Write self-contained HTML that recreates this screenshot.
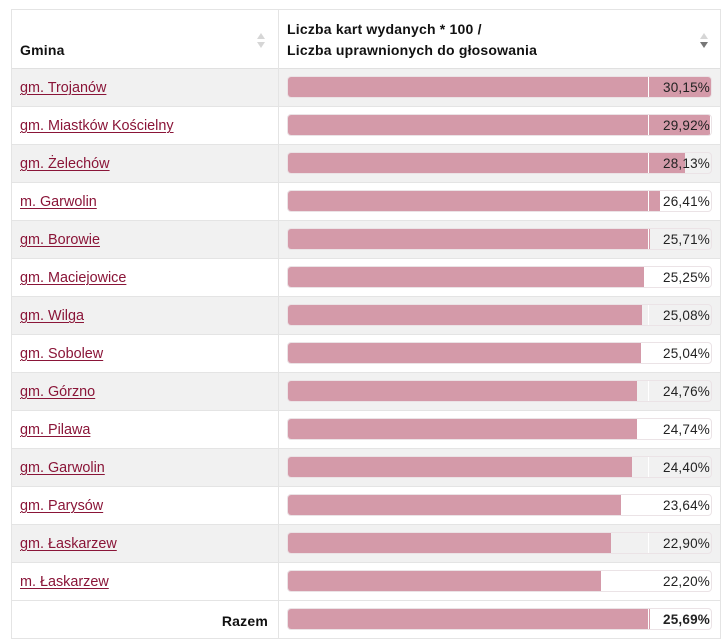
<!DOCTYPE html>
<html><head><meta charset="utf-8">
<style>
*{margin:0;padding:0;box-sizing:border-box}
body{width:726px;height:641px;background:#fff;font-family:"Liberation Sans","DejaVu Sans",sans-serif;position:relative;overflow:hidden;color:#222}
.tbl{position:absolute;left:11px;top:9px;width:710px;height:630px;border:1px solid #e4e4e4}
.hdr{position:absolute;left:0;top:0;width:708px;height:59px;background:#fff;border-bottom:1px solid #e0e0e0}
.vdiv{position:absolute;left:266px;top:0;width:1px;height:628px;background:#e4e4e4}
.row{position:absolute;left:0;width:708px;height:38px;border-bottom:1px solid #e4e4e4}
.g{background:#f1f1f1}
.name{position:absolute;left:8px;top:11px;font-size:14.4px;color:#8a1538;text-decoration:underline;text-underline-offset:2px;text-decoration-thickness:1px;white-space:nowrap}
.track{position:absolute;left:275px;top:7px;width:425px;height:22px;border:1px solid #ebe3e6;border-radius:4px;overflow:hidden}
.fill{position:absolute;left:0;top:0;height:100%;background:#d49aa9}
.lab{position:absolute;left:360px;top:0;width:65px;height:100%;border-left:1px solid #fff;text-align:right;padding-right:3px;padding-top:1px;font-size:13.5px;letter-spacing:0.2px;line-height:20px;color:#222}
.th{position:absolute;font-weight:bold;font-size:14px;letter-spacing:0.2px;color:#111;white-space:nowrap}
.sort{position:absolute;width:8px;height:16px}
.sort .u{position:absolute;left:0;top:0;width:0;height:0;border-left:4px solid transparent;border-right:4px solid transparent;border-bottom:6px solid #d6d6d6}
.sort .d{position:absolute;left:0;top:9px;width:0;height:0;border-left:4px solid transparent;border-right:4px solid transparent;border-top:6px solid #d6d6d6}
</style></head><body>
<div class="tbl">
<div class="hdr">
<div class="th" style="left:8px;top:32px">Gmina</div>
<div class="sort" style="left:245px;top:23px"><div class="u"></div><div class="d"></div></div>
<div class="th" style="left:275px;top:11px">Liczba kart wydanych * 100 /</div>
<div class="th" style="left:275px;top:32px">Liczba uprawnionych do głosowania</div>
<div class="sort" style="left:688px;top:23px"><div class="u"></div><div class="d" style="border-top-color:#777"></div></div>
</div>

<div class="row g" style="top:59px"><span class="name">gm. Trojanów</span><div class="track"><div class="fill" style="width:425px"></div><div class="lab">30,15%</div></div></div>
<div class="row" style="top:97px"><span class="name">gm. Miastków Kościelny</span><div class="track"><div class="fill" style="width:421.8px"></div><div class="lab">29,92%</div></div></div>
<div class="row g" style="top:135px"><span class="name">gm. Żelechów</span><div class="track"><div class="fill" style="width:396.5px"></div><div class="lab">28,13%</div></div></div>
<div class="row" style="top:173px"><span class="name">m. Garwolin</span><div class="track"><div class="fill" style="width:372.3px"></div><div class="lab">26,41%</div></div></div>
<div class="row g" style="top:211px"><span class="name">gm. Borowie</span><div class="track"><div class="fill" style="width:362.4px"></div><div class="lab">25,71%</div></div></div>
<div class="row" style="top:249px"><span class="name">gm. Maciejowice</span><div class="track"><div class="fill" style="width:355.9px"></div><div class="lab">25,25%</div></div></div>
<div class="row g" style="top:287px"><span class="name">gm. Wilga</span><div class="track"><div class="fill" style="width:353.5px"></div><div class="lab">25,08%</div></div></div>
<div class="row" style="top:325px"><span class="name">gm. Sobolew</span><div class="track"><div class="fill" style="width:353px"></div><div class="lab">25,04%</div></div></div>
<div class="row g" style="top:363px"><span class="name">gm. Górzno</span><div class="track"><div class="fill" style="width:349px"></div><div class="lab">24,76%</div></div></div>
<div class="row" style="top:401px"><span class="name">gm. Pilawa</span><div class="track"><div class="fill" style="width:348.7px"></div><div class="lab">24,74%</div></div></div>
<div class="row g" style="top:439px"><span class="name">gm. Garwolin</span><div class="track"><div class="fill" style="width:344px"></div><div class="lab">24,40%</div></div></div>
<div class="row" style="top:477px"><span class="name">gm. Parysów</span><div class="track"><div class="fill" style="width:333.2px"></div><div class="lab">23,64%</div></div></div>
<div class="row g" style="top:515px"><span class="name">gm. Łaskarzew</span><div class="track"><div class="fill" style="width:322.8px"></div><div class="lab">22,90%</div></div></div>
<div class="row" style="top:553px"><span class="name">m. Łaskarzew</span><div class="track"><div class="fill" style="width:312.9px"></div><div class="lab">22,20%</div></div></div>
<div class="row" style="top:591px;border-bottom:none"><span class="th" style="right:452px;top:12px">Razem</span><div class="track"><div class="fill" style="width:362.1px"></div><div class="lab" style="font-weight:bold">25,69%</div></div></div>

<div class="vdiv"></div>
</div>
</body></html>
